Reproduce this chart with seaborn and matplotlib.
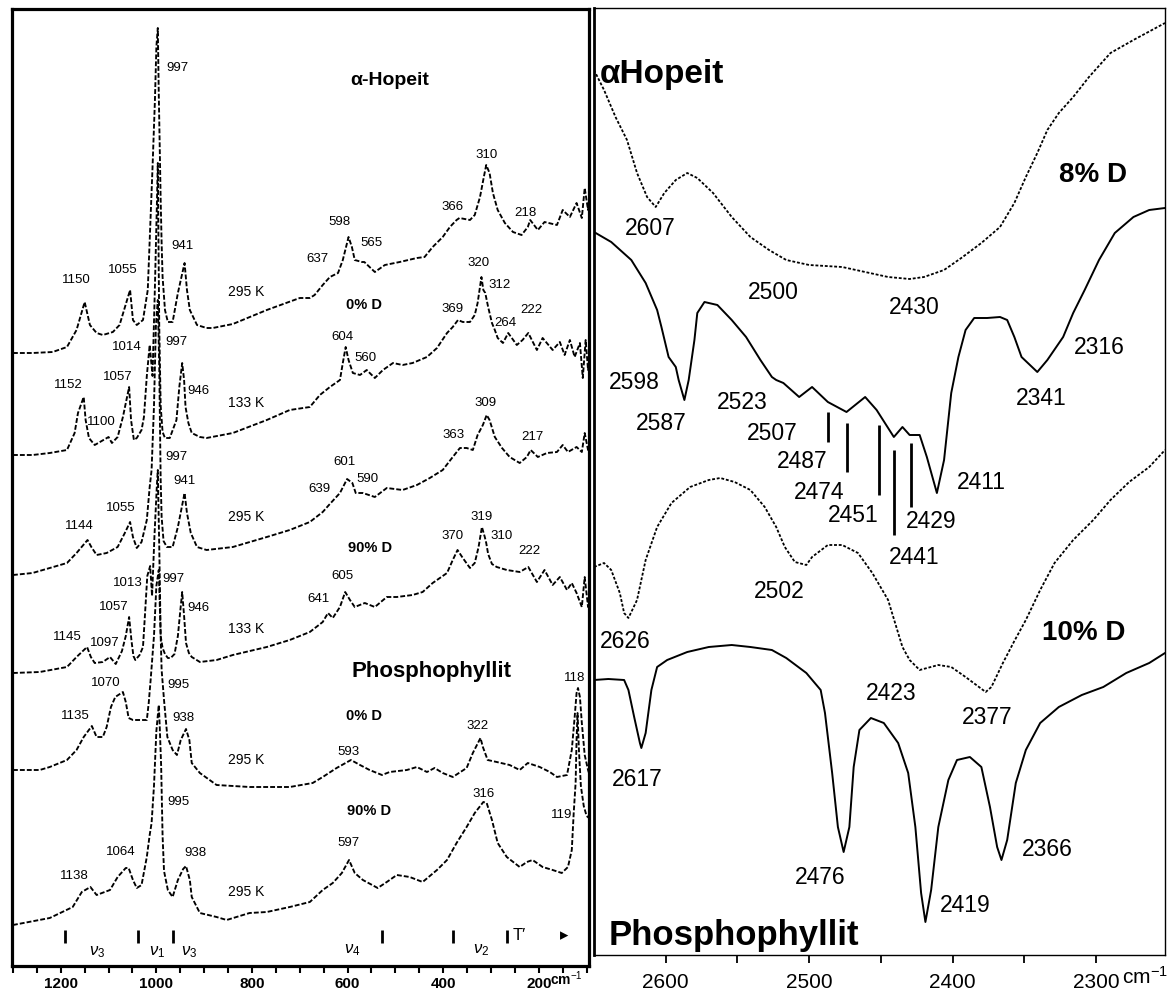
import numpy as np
import matplotlib
matplotlib.use("Agg")
import matplotlib.pyplot as plt
import matplotlib.transforms as mtransforms
import seaborn as sns

# ---------------- Raman spectra (left panel): wavenumber [cm-1], intensity [a.u., stacked] ----------------
hop_0D_295K_wn = [1300, 1259, 1217, 1187, 1167, 1150, 1139, 1125, 1112, 1091, 1077, 1055, 1049, 1041, 1028,
                  1018, 1008, 1003, 1000, 997, 995, 991, 989, 987, 982, 976, 966, 955, 941, 936, 930, 915, 895,
                  882, 840, 769, 700, 679, 669, 652, 637, 620, 610, 598, 591, 585, 570, 565, 543, 522, 491, 455,
                  439, 422, 401, 386, 372, 366, 344, 334, 323, 315, 310, 303, 296, 286, 271, 254, 236, 223, 218,
                  202, 188, 162, 150, 135, 121, 110, 104, 97, 95]
hop_0D_295K_int = [613, 613, 614, 619, 636, 664, 641, 633, 631, 634, 641, 676, 646, 641, 646, 676, 799, 866,
                   919, 938, 873, 766, 723, 689, 656, 644, 644, 673, 703, 676, 656, 641, 638, 638, 642, 656, 668,
                   668, 671, 681, 689, 693, 706, 729, 719, 706, 704, 704, 694, 701, 704, 708, 709, 719, 729, 739,
                   746, 748, 746, 751, 769, 789, 801, 793, 773, 756, 743, 734, 731, 739, 746, 736, 744, 741, 756,
                   749, 763, 748, 778, 756, 766]

hop_0D_133K_wn = [1300, 1259, 1223, 1187, 1171, 1164, 1152, 1148, 1141, 1129, 1118, 1100, 1093, 1081, 1070,
                  1057, 1053, 1047, 1041, 1031, 1026, 1020, 1014, 1008, 1003, 999, 997, 994, 991, 987, 982, 972,
                  958, 952, 946, 942, 939, 933, 926, 909, 895, 840, 769, 721, 679, 658, 637, 616, 610, 604, 598,
                  589, 574, 560, 543, 526, 505, 485, 464, 434, 413, 392, 380, 369, 359, 344, 334, 328, 320, 316,
                  312, 306, 298, 292, 286, 275, 264, 246, 234, 222, 204, 192, 171, 156, 146, 135, 125, 114, 108,
                  102, 97, 95]
hop_0D_133K_int = [511, 511, 513, 516, 533, 553, 569, 546, 528, 521, 524, 529, 523, 529, 549, 579, 546, 526,
                   528, 536, 549, 590, 621, 590, 680, 760, 803, 640, 560, 534, 528, 528, 546, 579, 603, 586, 559,
                   543, 533, 529, 528, 533, 546, 556, 559, 571, 579, 586, 603, 619, 606, 593, 591, 596, 588, 596,
                   603, 601, 603, 609, 618, 633, 639, 646, 644, 644, 651, 663, 689, 676, 673, 659, 643, 636, 628,
                   623, 633, 621, 626, 633, 616, 628, 616, 624, 611, 626, 609, 623, 588, 626, 596, 606]

hop_90D_295K_wn = [1300, 1259, 1223, 1187, 1167, 1144, 1136, 1125, 1104, 1081, 1066, 1055, 1049, 1041, 1031,
                   1020, 1014, 1010, 1005, 1001, 997, 994, 991, 989, 985, 978, 966, 955, 941, 936, 928, 915, 895,
                   840, 769, 721, 679, 652, 639, 616, 601, 590, 583, 568, 543, 518, 485, 455, 428, 401, 380, 365,
                   363, 351, 338, 328, 317, 309, 303, 292, 277, 261, 240, 225, 217, 202, 183, 162, 150, 139, 121,
                   110, 104, 97, 95]
hop_90D_295K_int = [391, 393, 398, 403, 413, 426, 419, 411, 413, 419, 433, 444, 429, 418, 424, 446, 479, 496,
                    560, 640, 666, 600, 486, 449, 425, 419, 419, 439, 473, 453, 433, 419, 416, 419, 429, 436, 444,
                    454, 461, 473, 487, 483, 473, 473, 469, 478, 476, 481, 488, 496, 509, 518, 518, 518, 516, 531,
                    541, 551, 546, 529, 518, 509, 503, 509, 516, 509, 513, 514, 521, 514, 519, 514, 533, 516, 521]

hop_90D_133K_wn = [1300, 1244, 1187, 1167, 1145, 1137, 1129, 1112, 1097, 1085, 1072, 1064, 1057, 1052, 1048,
                   1044, 1035, 1028, 1024, 1019, 1013, 1009, 1004, 999, 997, 994, 991, 987, 982, 976, 970, 962,
                   955, 950, 946, 942, 938, 932, 926, 909, 874, 840, 769, 721, 679, 652, 641, 631, 616, 605, 595,
                   585, 564, 543, 518, 497, 464, 443, 422, 392, 380, 370, 359, 344, 334, 326, 319, 313, 310, 306,
                   298, 288, 267, 240, 222, 204, 188, 171, 156, 141, 131, 121, 110, 104, 97, 95]
hop_90D_133K_int = [293, 294, 299, 309, 319, 309, 303, 304, 309, 302, 315, 330, 349, 325, 310, 306, 311, 319,
                    350, 390, 400, 370, 430, 480, 496, 420, 330, 318, 312, 308, 308, 312, 330, 355, 374, 350, 323,
                    313, 309, 304, 306, 311, 319, 326, 334, 344, 353, 348, 359, 374, 366, 359, 363, 359, 369, 369,
                    371, 374, 383, 393, 406, 416, 408, 398, 403, 419, 439, 429, 423, 412, 402, 399, 396, 394, 399,
                    384, 396, 381, 389, 376, 383, 373, 359, 389, 359, 370]

pho_0D_wn = [1300, 1244, 1223, 1187, 1167, 1152, 1135, 1125, 1112, 1104, 1095, 1086, 1070, 1064, 1058, 1049,
             1020, 1016, 1012, 1005, 1000, 995, 991, 989, 984, 977, 966, 957, 949, 938, 931, 926, 909, 874, 805,
             721, 673, 652, 623, 593, 574, 554, 528, 512, 476, 455, 434, 418, 401, 380, 351, 338, 322, 317, 307,
             288, 261, 240, 223, 198, 177, 162, 141, 131, 125, 121, 118, 114, 110, 104, 97, 95]
pho_0D_int = [196, 196, 199, 206, 216, 229, 240, 229, 229, 239, 259, 269, 274, 264, 248, 246, 246, 263, 286,
              330, 380, 396, 330, 296, 266, 229, 216, 211, 226, 237, 226, 203, 193, 181, 179, 179, 183, 189, 198,
              206, 201, 196, 191, 194, 196, 199, 194, 198, 193, 189, 198, 213, 228, 219, 206, 204, 201, 196, 203,
              199, 194, 189, 191, 216, 249, 273, 278, 269, 243, 211, 196, 193]

pho_90D_wn = [1300, 1223, 1175, 1156, 1138, 1125, 1097, 1081, 1064, 1058, 1049, 1041, 1031, 1020, 1014, 1010,
              1005, 1000, 995, 993, 990, 987, 984, 976, 966, 955, 944, 938, 930, 926, 909, 874, 853, 805, 769,
              721, 679, 652, 631, 612, 597, 585, 568, 537, 518, 497, 470, 443, 413, 392, 372, 351, 334, 316, 309,
              298, 286, 267, 240, 225, 213, 192, 171, 152, 139, 131, 127, 123, 121, 119, 116, 112, 106, 100, 95]
pho_90D_int = [41, 48, 59, 74, 79, 71, 76, 89, 98, 98, 86, 78, 81, 109, 131, 143, 180, 235, 261, 240, 200, 130,
               95, 76, 69, 86, 97, 100, 86, 69, 53, 49, 46, 53, 54, 59, 64, 76, 83, 93, 106, 93, 86, 78, 84, 91,
               89, 84, 96, 106, 123, 139, 153, 164, 163, 146, 123, 109, 99, 104, 106, 99, 96, 93, 99, 116, 153,
               183, 226, 253, 215, 180, 160, 150, 148]

# ---------------- IR spectra, OD stretching region (right panel) ----------------
ir_hop8_wn = [2650, 2643, 2635, 2627, 2620, 2613, 2607, 2601, 2593, 2585, 2578, 2567, 2554, 2541, 2528, 2516,
              2500, 2477, 2461, 2445, 2430, 2420, 2406, 2394, 2380, 2367, 2357, 2349, 2341, 2334, 2326, 2316,
              2305, 2290, 2274, 2252]
ir_hop8_int = [885, 865, 838, 815, 782, 758, 748, 762, 775, 782, 777, 762, 738, 718, 705, 695, 690, 688, 683,
               678, 676, 678, 685, 697, 712, 728, 752, 778, 802, 825, 842, 858, 878, 902, 915, 932]

ir_hop_wn = [2650, 2638, 2624, 2614, 2606, 2603, 2598, 2593, 2591, 2587, 2584, 2580, 2578, 2573, 2564, 2554,
             2544, 2534, 2526, 2523, 2518, 2507, 2498, 2487, 2474, 2461, 2453, 2441, 2435, 2430, 2423, 2418,
             2411, 2406, 2401, 2396, 2391, 2385, 2376, 2367, 2362, 2357, 2352, 2341, 2334, 2323, 2316, 2308,
             2298, 2287, 2274, 2263, 2252]
ir_hop_int = [723, 713, 695, 672, 645, 628, 598, 588, 575, 555, 575, 615, 642, 653, 650, 635, 618, 595, 578,
              575, 572, 558, 568, 553, 543, 558, 545, 518, 528, 520, 520, 498, 462, 495, 562, 598, 625, 637, 637,
              638, 635, 618, 598, 583, 595, 618, 642, 665, 695, 722, 738, 745, 747]

ir_hop10_wn = [2650, 2643, 2638, 2632, 2629, 2626, 2620, 2614, 2606, 2596, 2583, 2570, 2562, 2552, 2541, 2531,
               2523, 2517, 2510, 2502, 2498, 2487, 2477, 2466, 2456, 2445, 2438, 2435, 2430, 2423, 2410, 2401,
               2391, 2377, 2373, 2365, 2357, 2349, 2339, 2329, 2316, 2302, 2290, 2277, 2263, 2252]
ir_hop10_int = [388, 392, 385, 362, 342, 337, 355, 395, 428, 452, 468, 475, 477, 473, 465, 448, 428, 408, 393,
                390, 398, 410, 410, 402, 382, 355, 322, 308, 295, 285, 290, 288, 278, 263, 268, 292, 314, 335,
                365, 392, 415, 435, 455, 473, 488, 505]

ir_pho_wn = [2650, 2640, 2629, 2626, 2622, 2618, 2617, 2614, 2610, 2606, 2599, 2585, 2570, 2554, 2541, 2526,
             2516, 2502, 2492, 2489, 2484, 2480, 2476, 2472, 2469, 2465, 2457, 2448, 2438, 2431, 2426, 2422,
             2419, 2415, 2410, 2403, 2397, 2388, 2380, 2374, 2369, 2366, 2362, 2356, 2349, 2339, 2326, 2310,
             2295, 2279, 2263, 2252]
ir_pho_int = [275, 276, 275, 265, 238, 212, 207, 222, 265, 288, 295, 303, 308, 310, 308, 305, 297, 282, 265,
              242, 182, 128, 103, 128, 188, 225, 237, 232, 212, 182, 128, 62, 33, 65, 128, 175, 195, 198, 188,
              148, 108, 95, 115, 172, 205, 232, 248, 260, 268, 282, 292, 302]

# assignment markers below the alpha-Hopeit OD band
od_marker_wn = [2487, 2474, 2451, 2441, 2429]
od_marker_top = [543, 532, 530, 505, 512]
od_marker_bottom = [513, 483, 460, 420, 448]

# band-region separators along the bottom of the Raman panel
region_marks_wn = [1192, 1039, 966, 528, 380, 267]

# ---------------- text annotations (text, x, y) ----------------
raman_peak_labels = [
    ("1150", 1167, 686), ("1055", 1070, 696), ("997", 955, 898), ("941", 945, 720), ("637", 664, 707),
    ("598", 616, 744), ("565", 549, 723), ("366", 380, 759), ("310", 309, 811), ("218", 227, 753),
    ("1152", 1185, 581), ("1100", 1116, 544), ("1057", 1081, 589), ("1014", 1062, 619), ("997", 959, 624),
    ("946", 913, 575), ("604", 610, 629), ("560", 562, 608), ("369", 380, 657), ("320", 326, 703),
    ("312", 282, 681), ("264", 269, 643), ("222", 215, 656),
    ("1144", 1162, 440), ("1055", 1074, 458), ("997", 959, 509), ("941", 941, 485), ("639", 658, 477),
    ("601", 606, 504), ("590", 558, 487), ("363", 378, 531), ("309", 311, 563), ("217", 213, 529),
    ("1145", 1187, 329), ("1097", 1108, 323), ("1057", 1089, 359), ("1013", 1060, 383), ("997", 964, 387),
    ("946", 913, 358), ("641", 660, 367), ("605", 610, 390), ("370", 380, 430), ("319", 319, 449),
    ("310", 277, 430), ("222", 219, 415),
    ("1135", 1169, 250), ("1070", 1106, 283), ("995", 953, 281), ("938", 943, 248), ("593", 598, 214),
    ("322", 328, 240), ("118", 125, 288),
    ("1138", 1171, 90), ("1064", 1074, 114), ("995", 953, 164), ("938", 918, 113), ("597", 598, 123),
    ("316", 315, 172), ("119", 152, 151),
]
raman_temp_labels = [("295 K", 813, 674), ("133 K", 813, 563), ("295 K", 813, 449), ("133 K", 813, 337),
                     ("295 K", 813, 206), ("295 K", 813, 74)]
raman_deut_labels = [("0% D", 566, 661), ("90% D", 554, 418), ("0% D", 566, 250), ("90% D", 556, 155)]
raman_modes = [(r"$\nu_3$", 1125, 14), (r"$\nu_1$", 999, 14), (r"$\nu_3$", 932, 14),
               (r"$\nu_4$", 591, 16), (r"$\nu_2$", 321, 16)]

ir_peak_labels = [
    ("2607", 2611, 727), ("2500", 2525, 663), ("2430", 2427, 648),
    ("2598", 2622, 573), ("2587", 2603, 532), ("2523", 2547, 553), ("2507", 2526, 522),
    ("2487", 2505, 493), ("2474", 2493, 463), ("2451", 2469, 440), ("2441", 2427, 398),
    ("2429", 2415, 433), ("2411", 2380, 473), ("2341", 2338, 557), ("2316", 2298, 608),
    ("2626", 2628, 313), ("2502", 2521, 363), ("2423", 2443, 262), ("2377", 2376, 237),
    ("2617", 2620, 175), ("2476", 2492, 77), ("2419", 2391, 50), ("2366", 2334, 105),
]

raman_ticks = [1200, 1000, 800, 600, 400, 200]
ir_ticks = [2600, 2500, 2400, 2300]

# ---------------- styling ----------------
sns.set_theme(style="white")
plt.rcParams["font.family"] = ["Liberation Sans", "DejaVu Sans"]
plt.rcParams["mathtext.fontset"] = "custom"
plt.rcParams["mathtext.rm"] = "Liberation Sans"
plt.rcParams["mathtext.it"] = "Liberation Sans:italic"
for key in ("text.color", "axes.labelcolor", "xtick.color", "ytick.color", "axes.edgecolor"):
    plt.rcParams[key] = "black"

fig = plt.figure(figsize=(11.74, 9.92), dpi=100)
fig.patch.set_facecolor("white")
axL = fig.add_axes([12 / 1174, 26 / 992, 577 / 1174, 957 / 992])
axR = fig.add_axes([594 / 1174, 37 / 992, 571 / 1174, 947 / 992])

raman_style = dict(linewidth=1.35, linestyle=(0, (2.6, 1.1)))
dotted_style = dict(linewidth=1.3, linestyle=(0, (1.6, 1.0)))
solid_style = dict(linewidth=1.4, linestyle="-")


def draw(ax, wn, inten, style):
    sns.lineplot(x=np.asarray(wn, float), y=np.asarray(inten, float), ax=ax, color="black",
                 estimator=None, sort=False, legend=False, **style)


# ---- left: Raman ----
for wn, inten in [(hop_0D_295K_wn, hop_0D_295K_int), (hop_0D_133K_wn, hop_0D_133K_int),
                  (hop_90D_295K_wn, hop_90D_295K_int), (hop_90D_133K_wn, hop_90D_133K_int),
                  (pho_0D_wn, pho_0D_int), (pho_90D_wn, pho_90D_int)]:
    draw(axL, wn, inten, raman_style)

axL.set_xlim(1302, 95)
axL.set_ylim(0, 957)
axL.set_xlabel("")
axL.set_ylabel("")
axL.set_yticks([])
axL.set_xticks(raman_ticks)
axL.set_xticklabels([str(t) for t in raman_ticks], fontsize=11, fontweight="bold")
axL.set_xticks(np.arange(1300, 99, -50), minor=True)
axL.tick_params(axis="x", which="both", bottom=True, direction="out", length=5, width=1.5, pad=3)
for s in axL.spines.values():
    s.set_linewidth(2.3)
    s.set_color("black")
axL.text(177, -0.004, r"cm$^{-1}$", transform=mtransforms.blended_transform_factory(axL.transData, axL.transAxes),
         ha="left", va="top", fontsize=10, fontweight="bold")

for txt, x, y in raman_peak_labels:
    axL.text(x, y, txt, ha="center", va="center", fontsize=9.5)
for txt, x, y in raman_temp_labels:
    axL.text(x, y, txt, ha="center", va="center", fontsize=10)
for txt, x, y in raman_deut_labels:
    axL.text(x, y, txt, ha="center", va="center", fontsize=10.5, fontweight="bold")
axL.text(512, 881, "α-Hopeit", ha="center", va="baseline", fontsize=14, fontweight="bold")
axL.text(424, 289, "Phosphophyllit", ha="center", va="baseline", fontsize=16, fontweight="bold")

axL.vlines(region_marks_wn, 23, 36, color="black", linewidth=2)
for txt, x, y in raman_modes:
    axL.text(x, y, txt, ha="center", va="center", fontsize=12)
axL.text(240, 30, "T′", ha="center", va="center", fontsize=12)
axL.text(146, 30, "▸", ha="center", va="center", fontsize=12)

# ---- right: IR, OD stretching ----
draw(axR, ir_hop8_wn, ir_hop8_int, dotted_style)
draw(axR, ir_hop_wn, ir_hop_int, solid_style)
draw(axR, ir_hop10_wn, ir_hop10_int, dotted_style)
draw(axR, ir_pho_wn, ir_pho_int, solid_style)
axR.vlines(od_marker_wn, od_marker_bottom, od_marker_top, color="black", linewidth=2)

axR.set_xlim(2650, 2252)
axR.set_ylim(0, 947)
axR.set_xlabel("")
axR.set_ylabel("")
axR.set_yticks([])
axR.set_xticks(ir_ticks)
axR.set_xticklabels([str(t) for t in ir_ticks], fontsize=15)
axR.set_xticks([2550, 2450, 2350], minor=True)
axR.tick_params(axis="x", which="both", bottom=True, direction="out", length=6, width=1.3, pad=7)
for name, s in axR.spines.items():
    s.set_color("black")
    s.set_linewidth(2.0 if name == "left" else 1.0)
axR.text(2282, -0.012, r"cm$^{-1}$", transform=mtransforms.blended_transform_factory(axR.transData, axR.transAxes),
         ha="left", va="top", fontsize=15)

for txt, x, y in ir_peak_labels:
    axR.text(x, y, txt, ha="center", va="center", fontsize=16.5)
axR.text(2302, 780, "8% D", ha="center", va="center", fontsize=20, fontweight="bold")
axR.text(2309, 322, "10% D", ha="center", va="center", fontsize=20, fontweight="bold")
axR.text(2646, 872, "αHopeit", ha="left", va="baseline", fontsize=24, fontweight="bold")
axR.text(2640, 10, "Phosphophyllit", ha="left", va="baseline", fontsize=25, fontweight="bold")

fig.savefig("out.png", dpi=100)
